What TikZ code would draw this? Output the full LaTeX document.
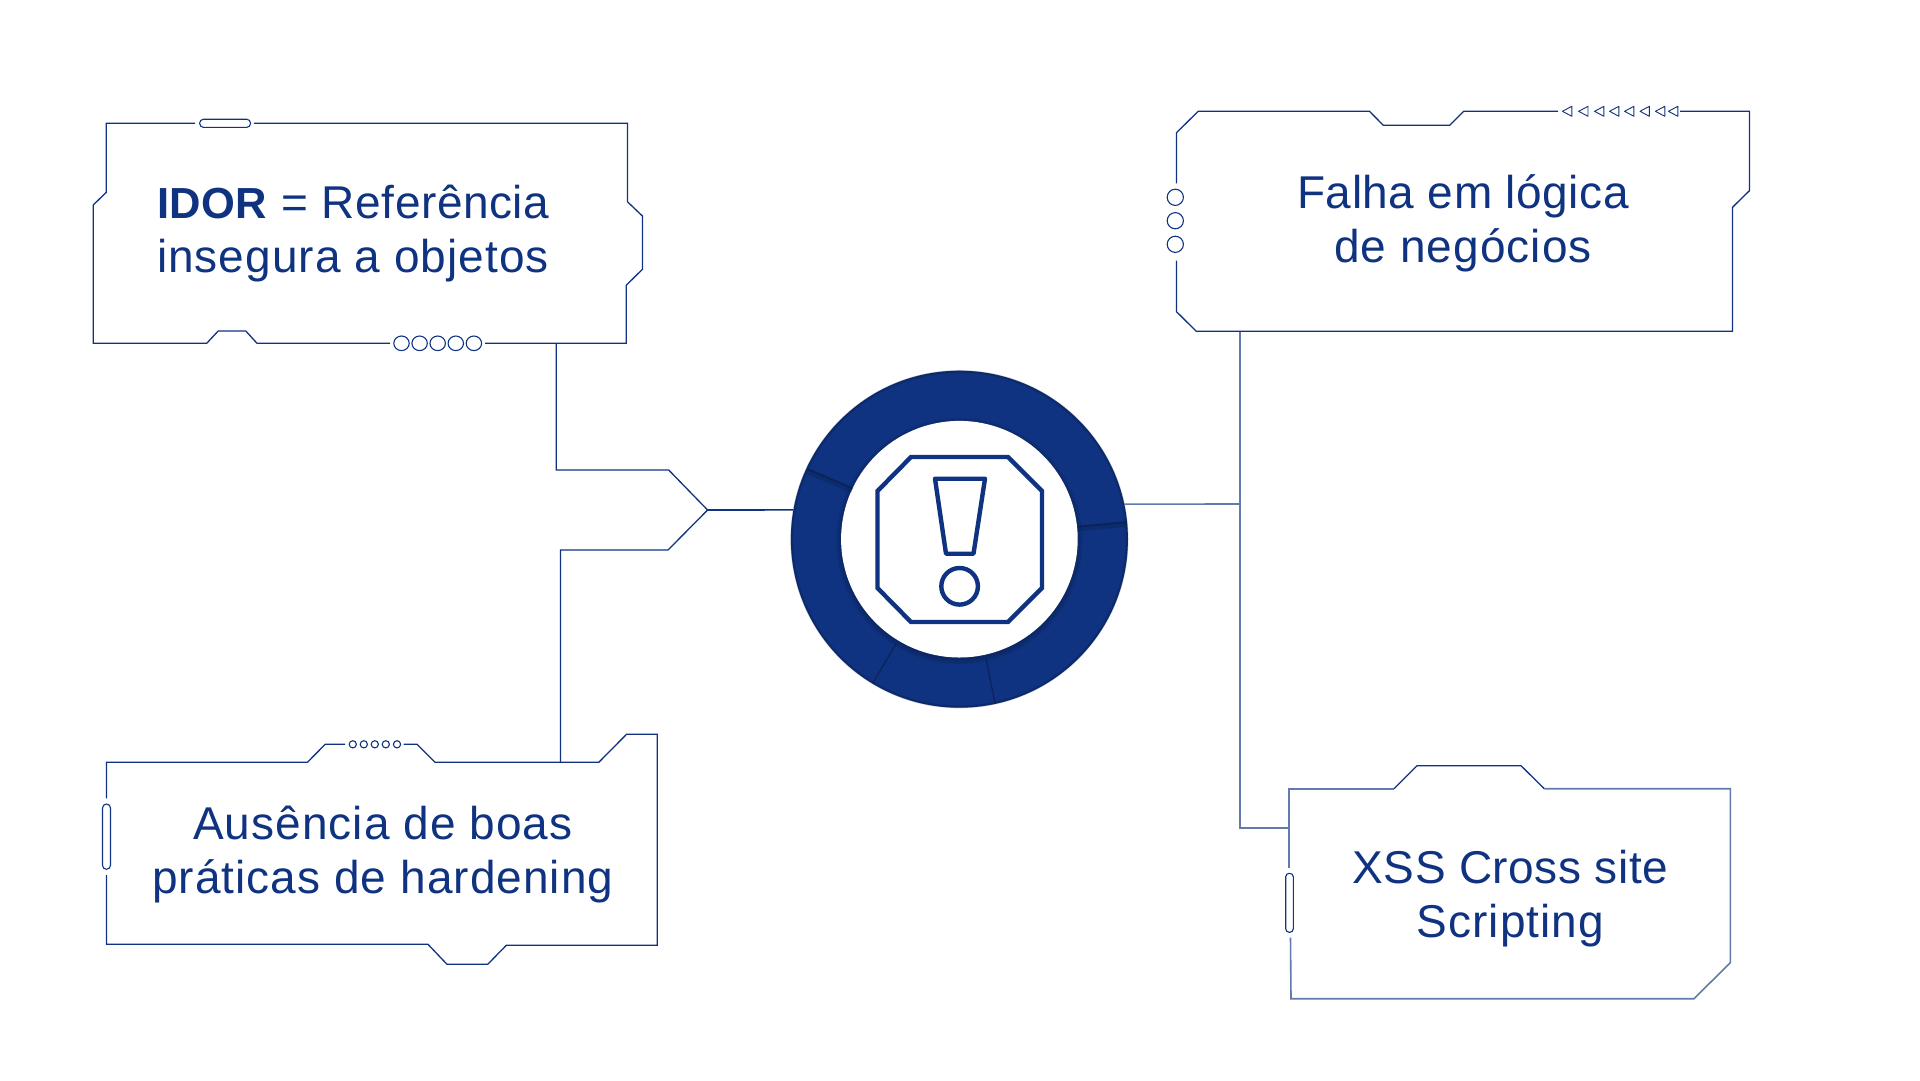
\documentclass[tikz,border=0pt]{standalone}
\usepackage{fontspec}
\setmainfont{Liberation Sans}[LetterSpace=2.3]
\newfontfamily\apertada{Liberation Sans}[LetterSpace=1.2]
\usetikzlibrary{positioning, calc}
\definecolor{azul}{HTML}{0F3380}
\definecolor{azulesc}{HTML}{0A2050}
\tikzset{
  moldura/.style={draw=azul, line width=1.3pt},
  claro/.style={draw=azul!65, line width=1.6pt},
  furo/.style={draw=azul, line width=1.1pt, fill=white},
  icone/.style={draw=azul, line width=4.4pt, line join=miter},
  texto/.style={text=azul, align=center, inner sep=0pt, font=\fontsize{46}{54.4}\selectfont},
  fenda/.style={draw=azulesc, line width=1.6pt, opacity=0.8},
  sombra/.style={draw=azulesc, line width=6pt, opacity=0.35}
}
\begin{document}
\begin{tikzpicture}[x=1pt, y=-1pt]
\useasboundingbox (0, 0) rectangle (1920, 1080);

% ligacoes
\coordinate (idorpe) at (556.3, 343.3);
\coordinate (idorcanto) at (556.3, 470);
\coordinate (idordiag) at (668.7, 470);
\coordinate (ponta) at (707.6, 510);
\coordinate (boasdiag) at (668, 550);
\coordinate (boascanto) at (560.4, 550);
\coordinate (boastopo) at (560.4, 762.3);
\coordinate (falhape) at (1240, 331.3);
\coordinate (barra) at (1240, 504);
\coordinate (xsscanto) at (1240, 827.7);
\coordinate (xssborda) at (1289, 827.7);

\draw[moldura] (idorpe) -- (idorcanto) -- (idordiag) -- (ponta) -- (boasdiag) -- (boascanto) -- (boastopo);
\draw[claro] (falhape) -- (xsscanto) -- (xssborda);

% caixa idor
\draw[moldura] (195.2, 123.3) -- (106.3, 123.3) -- (106.3, 192.3) -- (93.2, 205) -- (93.2, 343.3)
  -- (206.7, 343.3) -- (218.2, 331) -- (245.8, 331) -- (257, 343.3) -- (390, 343.3);
\draw[moldura] (485, 343.3) -- (626.2, 343.3) -- (626.2, 285.3) -- (642.4, 269.3) -- (642.4, 216)
  -- (627.4, 201.7) -- (627.4, 123.3) -- (253.8, 123.3);
\draw[furo, rounded corners=4pt] (199.6, 119.2) rectangle (250.6, 127.4);
\foreach \x in {401.5, 419.6, 437.7, 455.8, 473.9}
  \draw[furo] (\x, 343.3) ellipse (7.7 and 7.3);
\node[texto, align=left, anchor=base west] (idor) at (156.8, 272.9)
  {{\apertada\fontsize{43.5}{54.4}\selectfont\textbf{IDOR}} {\apertada = Referência}\\insegura a objetos};

% caixa falha
\draw[moldura] (1176.5, 183.3) -- (1176.5, 132.7) -- (1198.2, 111.3) -- (1369.5, 111.3) -- (1383.3, 125.3)
  -- (1449.7, 125.3) -- (1463.6, 111.3) -- (1558, 111.3);
\draw[moldura] (1680, 111.3) -- (1749.4, 111.3) -- (1749.4, 190.7) -- (1732.5, 207.3) -- (1732.5, 331.3)
  -- (1196.3, 331.3) -- (1176.5, 311.7) -- (1176.5, 260.7);
\foreach \x in {1562.4, 1578.6, 1594.5, 1609.5, 1624.5, 1640, 1655.4, 1668.4}
  \draw[furo, line width=0.9pt, line join=round] (\x, 111.3) -- (\x+9.4, 106.3) -- (\x+9.4, 116.3) -- cycle;
\foreach \y in {197.3, 220.7, 244.3}
  \draw[furo] (1175.3, \y) circle (8.1);
\node[texto, anchor=base] (falha) at (1463, 262.5) {{\apertada Falha em lógica}\\de negócios};

% caixa boas praticas
\draw[moldura] (106.5, 798.3) -- (106.5, 762.3) -- (307.4, 762.3) -- (325.2, 744.3) -- (345, 744.3);
\draw[moldura] (403.5, 744.3) -- (417, 744.3) -- (435, 762.3) -- (598.8, 762.3) -- (626.5, 734.3)
  -- (657.3, 734.3) -- (657.3, 945.3) -- (506.3, 945.3) -- (487.7, 964.3) -- (447, 964.3)
  -- (428, 944.3) -- (106.5, 944.3) -- (106.5, 875);
\foreach \x in {352.8, 363.8, 374.8, 385.8, 397}
  \draw[furo] (\x, 744.3) circle (3.6);
\draw[furo, rounded corners=4pt] (102.5, 804) rectangle (110.5, 869.3);
\node[texto, anchor=base] (boas) at (382.8, 893.5) {Ausência de boas\\práticas de hardening};

% caixa xss
\draw[claro] (1289, 868.3) -- (1289, 788.7) -- (1394, 788.7);
\draw[moldura] (1394, 788.7) -- (1417, 765.7) -- (1521, 765.7) -- (1544.3, 788.7);
\draw[claro] (1544.3, 788.7) -- (1730.3, 788.7) -- (1730.3, 962.7) -- (1694, 998.7) -- (1291, 998.7) -- (1290.5, 937.7);
\draw[furo, rounded corners=3.5pt] (1285.7, 873.3) rectangle (1293.3, 932.3);
\node[texto, anchor=base] (xss) at (1510.3, 937.5) {{\apertada XSS Cross site}\\Scripting};

% anel central
\node[circle, fill=azul, minimum size=337pt, inner sep=0pt] (anel) at (959.4, 539.2) {};
\draw[moldura, line width=1.6pt] (ponta) -- (anel.170);
\draw[claro] (barra) -- (anel.12);
\foreach \w in {1, 2, 3}
  \draw[azulesc, opacity=0.2, line width=\w pt] (anel.center) circle (167.6);
\foreach \r in {119, 121, 123}
  \fill[azulesc, opacity=0.22] (959.4, 541) circle (\r);
\node[circle, fill=white, minimum size=236.6pt, inner sep=0pt] (miolo) at (959.4, 539.2) {};
\draw[sombra] (807.3, 471) -- (852.2, 490);
\draw[sombra] (1126.5, 524) -- (1078, 528.4);
\draw[fenda] (807.3, 469.3) -- (852.2, 488.3);
\draw[fenda] (1126.5, 522.3) -- (1078, 526.7);
\draw[fenda, line width=1.2pt] (986, 658.3) -- (995, 703.3);
\draw[fenda, line width=1.2pt] (896.3, 643.3) -- (872.7, 683.3);

% icone
\draw[icone] (911, 457) -- (1008, 457) -- (1042, 491) -- (1042, 588) -- (1008, 622) -- (911, 622)
  -- (877.5, 588) -- (877.5, 491) -- cycle;
\draw[icone, line join=round] (935, 478.7) -- (985, 478.7) -- (973.5, 553.7) -- (946, 553.7) -- cycle;
\draw[icone] (959.6, 586.3) circle (18.3);
\end{tikzpicture}
\end{document}
